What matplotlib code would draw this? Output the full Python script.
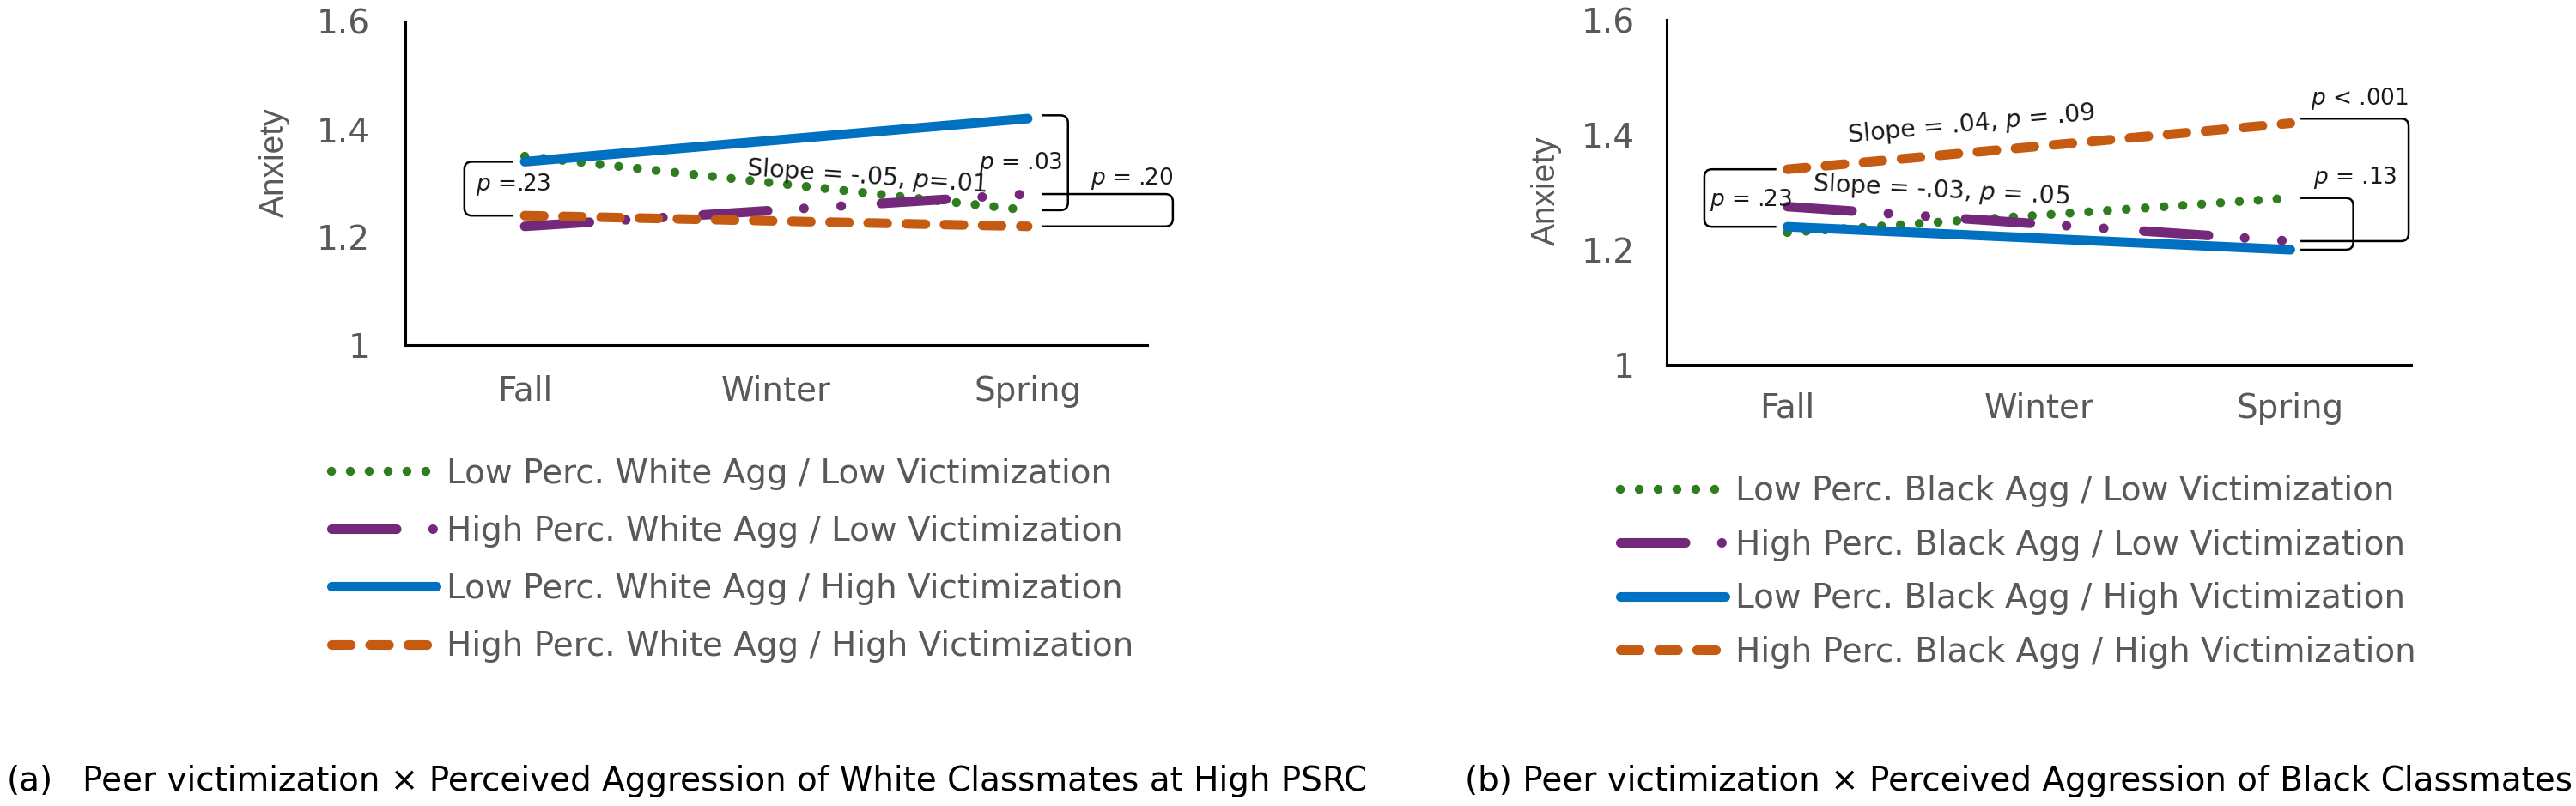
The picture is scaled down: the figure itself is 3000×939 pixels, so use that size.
import matplotlib
matplotlib.use("Agg")
import matplotlib.pyplot as plt
from matplotlib.path import Path
from matplotlib.patches import PathPatch

plt.rcParams['font.family'] = ['DejaVu Sans']
plt.rcParams['mathtext.fontset'] = 'custom'
plt.rcParams['mathtext.rm'] = 'DejaVu Sans'
plt.rcParams['mathtext.it'] = 'DejaVu Sans:italic'

# ---------------- data ----------------
seasons = ['Fall', 'Winter', 'Spring']
y_ticks = [1.0, 1.2, 1.4, 1.6]
y_tick_labels = ['1', '1.2', '1.4', '1.6']

labels_white = ['Low Perc. White Agg / Low Victimization',
                'High Perc. White Agg / Low Victimization',
                'Low Perc. White Agg / High Victimization',
                'High Perc. White Agg / High Victimization']
white_low_agg_low_vic = [1.35, 1.30, 1.25]
white_high_agg_low_vic = [1.22, 1.25, 1.28]
white_low_agg_high_vic = [1.34, 1.38, 1.42]
white_high_agg_high_vic = [1.24, 1.23, 1.22]

labels_black = ['Low Perc. Black Agg / Low Victimization',
                'High Perc. Black Agg / Low Victimization',
                'Low Perc. Black Agg / High Victimization',
                'High Perc. Black Agg / High Victimization']
black_low_agg_low_vic = [1.23, 1.26, 1.29]
black_high_agg_low_vic = [1.275, 1.245, 1.215]
black_low_agg_high_vic = [1.24, 1.22, 1.20]
black_high_agg_high_vic = [1.34, 1.38, 1.42]

caption_a_tag = '(a)'
caption_a = 'Peer victimization \u00d7 Perceived Aggression of White Classmates at High PSRC'
caption_b = '(b) Peer victimization \u00d7 Perceived Aggression of Black Classmates'

# ---------------- styles ----------------
GREEN = '#2E7D1F'
PURPLE = '#74287A'
BLUE = '#0070C0'
ORANGE = '#C55A11'
GRAY = '#595959'
ANN = '#1a1a1a'
FS = 28
AFS = 19
SFS = 20.5

styles = [
    dict(color=GREEN, lw=7.5, dashes=(0.01, 2.1)),
    dict(color=PURPLE, lw=8, dashes=(6.8, 3.8, 0.01, 3.9, 0.01, 4.2)),
    dict(color=BLUE, lw=8, dashes=None),
    dict(color=ORANGE, lw=8, dashes=(2.0, 2.0)),
]

W, H = 3000, 939
fig = plt.figure(figsize=(W / 100, H / 100), dpi=100)

axL = fig.add_axes([472 / W, (H - 402) / H, 864 / W, 377 / H])
axR = fig.add_axes([1941 / W, (H - 425) / H, 867 / W, 402 / H])
axL.set_xlim(-0.475, 2.475)
axR.set_xlim(-0.48, 2.48)


def style_axes(ax, xpad, ypad):
    ax.set_ylim(1.0, 1.6)
    ax.set_yticks(y_ticks)
    ax.set_yticklabels(y_tick_labels)
    ax.set_xticks(range(len(seasons)))
    ax.set_xticklabels(seasons)
    for s in ['top', 'right']:
        ax.spines[s].set_visible(False)
    for s in ['left', 'bottom']:
        ax.spines[s].set_linewidth(2.2)
        ax.spines[s].set_color('black')
    ax.tick_params(axis='both', length=0, labelsize=FS, labelcolor=GRAY)
    ax.tick_params(axis='x', pad=xpad)
    ax.tick_params(axis='y', pad=ypad)
    ax.patch.set_alpha(0)


def plot_series(ax, series, labels):
    lines = []
    x = list(range(len(seasons)))
    for vals, lab, st in zip(series, labels, styles):
        ln, = ax.plot(x, vals, color=st['color'], lw=st['lw'], label=lab,
                      solid_capstyle='round', dash_capstyle='round', clip_on=False)
        if st['dashes'] is not None:
            ln.set_dashes(st['dashes'])
        lines.append(ln)
    return lines


def bracket(ax, x0, x1, ytop, ybot, rx, ry):
    sgn = 1 if x1 > x0 else -1
    verts = [(x0, ytop), (x1 - sgn * rx, ytop), (x1, ytop), (x1, ytop - ry),
             (x1, ybot + ry), (x1, ybot), (x1 - sgn * rx, ybot), (x0, ybot)]
    codes = [Path.MOVETO, Path.LINETO, Path.CURVE3, Path.CURVE3,
             Path.LINETO, Path.CURVE3, Path.CURVE3, Path.LINETO]
    ax.add_patch(PathPatch(Path(verts, codes), fill=False, lw=1.8,
                           edgecolor='black', clip_on=False, zorder=5))


def ann(ax, x, y, s, ha='left', rot=0, size=AFS):
    ax.text(x, y, s, fontsize=size, color=ANN, ha=ha, va='center',
            rotation=rot, rotation_mode='anchor', clip_on=False, zorder=6)


# ---------------- left panel ----------------
style_axes(axL, 25, 30)
white_series = [white_low_agg_low_vic, white_high_agg_low_vic,
                white_low_agg_high_vic, white_high_agg_high_vic]
linesL = plot_series(axL, white_series, labels_white)
axL.text(-0.176, 0.565, 'Anxiety', transform=axL.transAxes, rotation=90,
         ha='center', va='center', fontsize=FS, color=GRAY,
         family=['Liberation Sans', 'DejaVu Sans'])

bracket(axL, -0.048, -0.24, white_low_agg_high_vic[0], white_high_agg_high_vic[0], 0.03, 0.014)
bracket(axL, 2.055, 2.16, white_low_agg_high_vic[2] + 0.006, white_low_agg_low_vic[2], 0.03, 0.014)
bracket(axL, 2.055, 2.577, white_high_agg_low_vic[2], white_high_agg_high_vic[2], 0.03, 0.014)
ann(axL, -0.195, 1.298, '$p$ =.23')
ann(axL, 2.14, 1.338, '$p$ = .03', ha='right')
ann(axL, 2.25, 1.309, '$p$ = .20')
ann(axL, 1.36, 1.312, 'Slope = -.05, $p$=.01', ha='center', rot=-4, size=SFS)

# ---------------- right panel ----------------
style_axes(axR, 23, 27)
black_series = [black_low_agg_low_vic, black_high_agg_low_vic,
                black_low_agg_high_vic, black_high_agg_high_vic]
linesR = plot_series(axR, black_series, labels_black)
axR.text(-0.1615, 0.505, 'Anxiety', transform=axR.transAxes, rotation=90,
         ha='center', va='center', fontsize=FS, color=GRAY,
         family=['Liberation Sans', 'DejaVu Sans'])

bracket(axR, -0.044, -0.33, black_high_agg_high_vic[0], black_low_agg_high_vic[0], 0.03, 0.0134)
bracket(axR, 2.04, 2.47, black_high_agg_high_vic[2] + 0.008, black_high_agg_low_vic[2], 0.03, 0.0134)
bracket(axR, 2.04, 2.25, black_low_agg_low_vic[2], black_low_agg_high_vic[2], 0.03, 0.0134)
ann(axR, -0.31, 1.287, '$p$ = .23')
ann(axR, 2.08, 1.463, '$p$ < .001')
ann(axR, 2.09, 1.325, '$p$ = .13')
ann(axR, 0.73, 1.418, 'Slope = .04, $p$ = .09', ha='center', rot=5.3, size=SFS)
ann(axR, 0.61, 1.303, 'Slope = -.03, $p$ = .05', ha='center', rot=-3, size=SFS)

# ---------------- legends ----------------
legL = fig.legend(handles=linesL, loc='center left',
                  bbox_to_anchor=(386 / W, 1 - 652.5 / H), frameon=False,
                  fontsize=FS, labelcolor=GRAY, handlelength=3.14,
                  handletextpad=0.3, borderpad=0, borderaxespad=0,
                  labelspacing=0.75)
legR = fig.legend(handles=linesR, loc='center left',
                  bbox_to_anchor=(1887 / W, 1 - 666 / H), frameon=False,
                  fontsize=FS, labelcolor=GRAY, handlelength=3.14,
                  handletextpad=0.3, borderpad=0, borderaxespad=0,
                  labelspacing=0.63)

# ---------------- captions ----------------
fig.text(8 / W, 1 - 910 / H, caption_a_tag, fontsize=FS, color='black', va='center')
fig.text(96 / W, 1 - 910 / H, caption_a, fontsize=FS, color='black', va='center')
fig.text(1706 / W, 1 - 910 / H, caption_b, fontsize=FS, color='black', va='center')

fig.savefig('out.png', dpi=100)
